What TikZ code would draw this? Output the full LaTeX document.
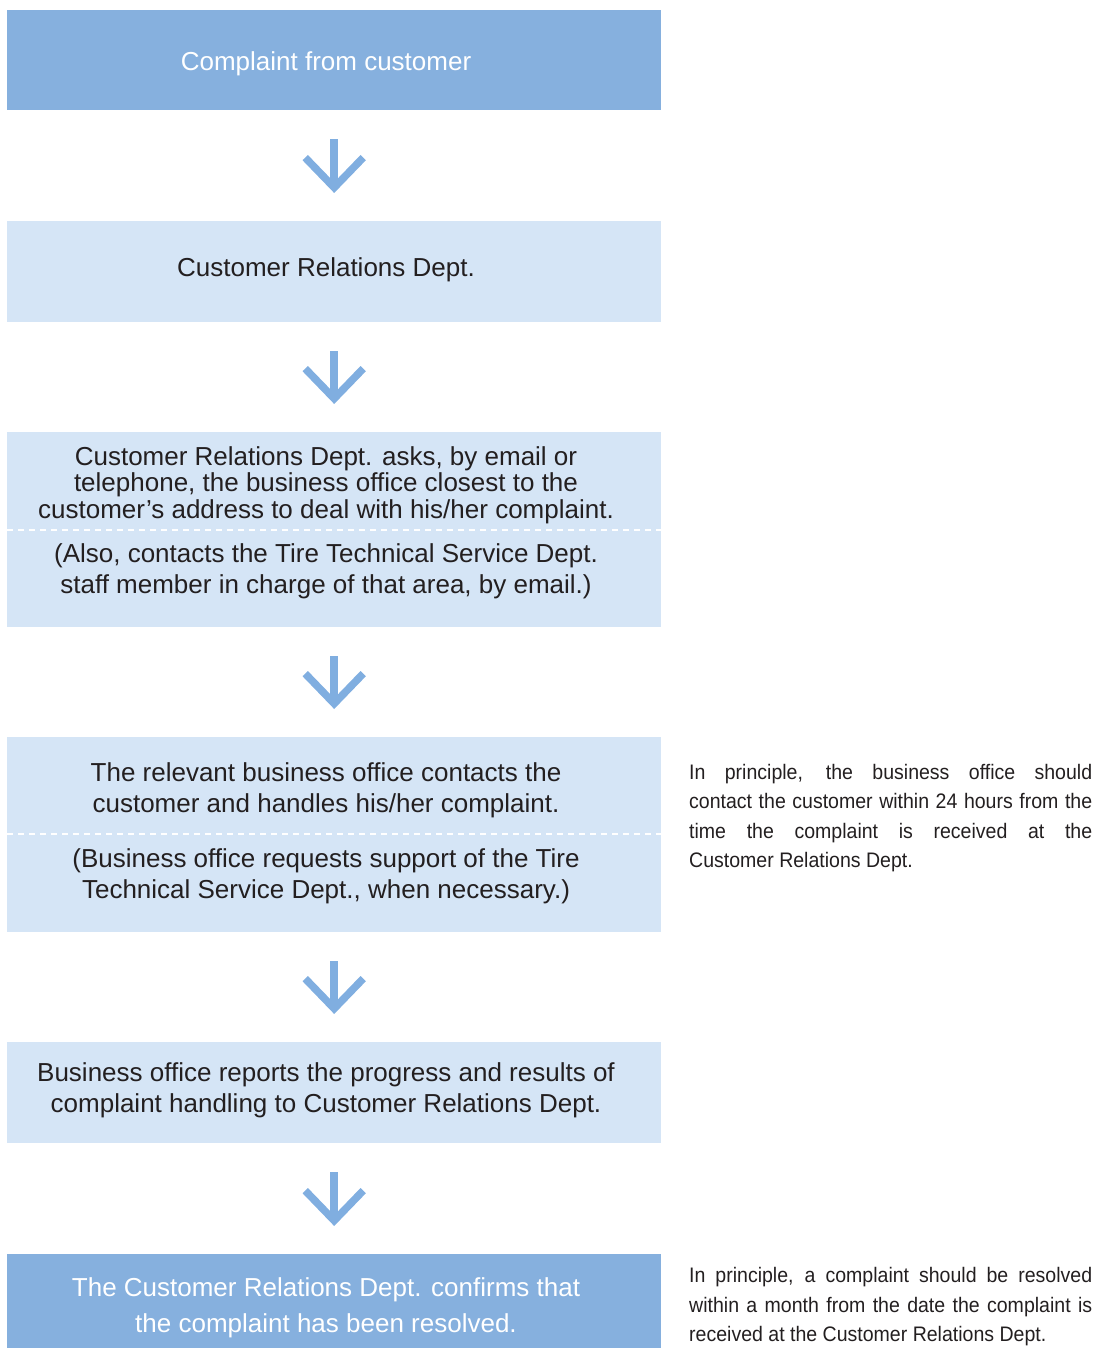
\documentclass[tikz,border=0pt]{standalone}
\usepackage{fontspec}
\setmainfont{Liberation Sans}
\newfontfamily\notefont[FakeStretch=0.93]{Liberation Sans}
\usetikzlibrary{arrows.meta,calc}
\definecolor{darkfill}{HTML}{86B0DE}
\definecolor{lightfill}{HTML}{D5E5F6}
\definecolor{arrowblue}{HTML}{80AEE0}
\definecolor{txt}{HTML}{231F20}
\begin{document}
\begin{tikzpicture}[x=1pt,y=-1pt,
  boxbase/.style={rectangle, minimum width=654pt, anchor=north west, inner sep=0pt, draw=none},
  darkstep/.style={boxbase, fill=darkfill},
  lightstep/.style={boxbase, fill=lightfill},
  boxtext/.style={align=center, inner sep=0pt, text=txt, font=\fontsize{26}{31}\selectfont},
  tighttext/.style={boxtext, font=\fontsize{26}{26.5}\selectfont},
  whitetext/.style={boxtext, text=white},
  sidenote/.style={anchor=west, text width=403pt, align=justify, inner sep=0pt, text=txt,
    font=\notefont\fontsize{21}{29.5}\selectfont},
  sep/.style={white, line width=1.5pt, dash pattern=on 6pt off 5pt},
  conn/.style={arrowblue, line width=7.5pt, shorten <=29pt, shorten >=28pt,
    -{Straight Barb[length=30pt,width=58pt]}}
]
\useasboundingbox (0,0) rectangle (1099,1348);

% boxes
\node[darkstep, minimum height=100pt] (b1) at (7,10) {};
\node[lightstep, minimum height=101pt] (b2) at (7,221) {};
\node[lightstep, minimum height=195pt] (b3) at (7,432) {};
\node[lightstep, minimum height=195pt] (b4) at (7,737) {};
\node[lightstep, minimum height=101pt] (b5) at (7,1042) {};
\node[darkstep, minimum height=110pt] (b6) at (7,1254) {};

% dashed separators
\draw[sep] ($(b3.north west)+(0,98)$) -- ($(b3.north east)+(0,98)$);
\draw[sep] ($(b4.north west)+(0,97)$) -- ($(b4.north east)+(0,97)$);

% texts
\node[whitetext] (t1) at (326,64) {Complaint from customer};
\node[boxtext] (t2) at (326,270) {Customer Relations Dept.};
\node[tighttext] (t3a) at (326,485) {Customer Relations Dept. asks, by email or\\telephone, the business office closest to the\\customer’s address to deal with his/her complaint.};
\node[boxtext] (t3b) at (326,571) {(Also, contacts the Tire Technical Service Dept.\\staff member in charge of that area, by email.)};
\node[boxtext] (t4a) at (326,790.5) {The relevant business office contacts the\\customer and handles his/her complaint.};
\node[boxtext] (t4b) at (326,876) {(Business office requests support of the Tire\\Technical Service Dept., when necessary.)};
\node[boxtext] (t5) at (326,1090) {Business office reports the progress and results of\\complaint handling to Customer Relations Dept.};
\node[whitetext, font=\fontsize{26}{36}\selectfont] (t6) at (326,1308) {The Customer Relations Dept. confirms that\\the complaint has been resolved.};

% side notes
\node[sidenote] (n1) at (689,818) {In principle, the business office should\linebreak contact the customer within 24 hours from the\linebreak time the complaint is received at the\linebreak Customer Relations Dept.};
\node[sidenote] (n2) at (689,1307) {In principle, a complaint should be resolved\linebreak within a month from the date the complaint is\linebreak received at the Customer Relations Dept.};

% connectors
\draw[conn] (b1) -- (b2);
\draw[conn] (b2) -- (b3);
\draw[conn] (b3) -- (b4);
\draw[conn] (b4) -- (b5);
\draw[conn] (b5) -- (b6);
\end{tikzpicture}
\end{document}
